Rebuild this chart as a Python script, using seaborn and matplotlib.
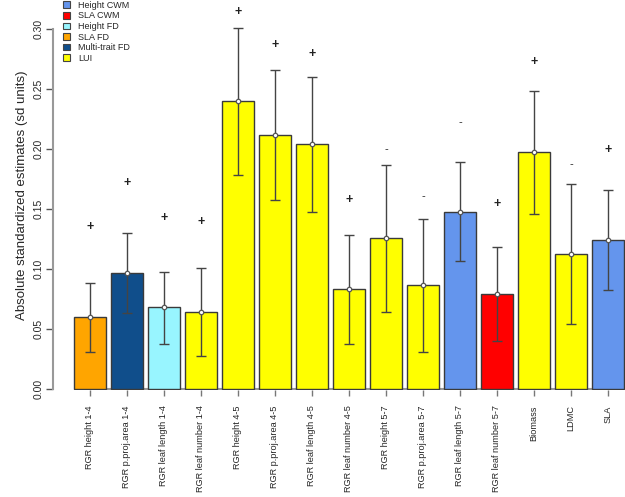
import seaborn as sns
import pandas as pd
import matplotlib.pyplot as plt
from matplotlib.patches import Patch

labels = ["RGR height 1-4", "RGR p.proj.area 1-4", "RGR leaf length 1-4", "RGR leaf number 1-4",
          "RGR height 4-5", "RGR p.proj.area 4-5", "RGR leaf length 4-5", "RGR leaf number 4-5",
          "RGR height 5-7", "RGR p.proj.area 5-7", "RGR leaf length 5-7", "RGR leaf number 5-7",
          "Biomass", "LDMC", "SLA"]
groups = ["SLA FD", "Multi-trait FD", "Height FD", "LUI",
          "LUI", "LUI", "LUI", "LUI",
          "LUI", "LUI", "Height CWM", "SLA CWM",
          "LUI", "LUI", "Height CWM"]
estimate = [0.060, 0.0967, 0.0683, 0.0644, 0.240, 0.212, 0.2044, 0.0836,
            0.1258, 0.0867, 0.1478, 0.0797, 0.1975, 0.1128, 0.1247]
upper = [0.089, 0.130, 0.098, 0.101, 0.3008, 0.266, 0.2605, 0.129,
         0.187, 0.142, 0.1897, 0.1186, 0.249, 0.171, 0.166]
lower = [0.031, 0.0633, 0.038, 0.0278, 0.179, 0.158, 0.148, 0.0378,
         0.0644, 0.031, 0.1067, 0.0405, 0.146, 0.0547, 0.083]
sign_pos = [0.135, 0.172, 0.143, 0.139, 0.3148, 0.287, 0.279, 0.158,
            0.200, 0.161, 0.2228, 0.154, 0.2725, 0.188, 0.199]
signs = ["+", "+", "+", "+", "+", "+", "+", "+", "-", "-", "-", "+", "+", "-", "+"]

legend_names = ["Height CWM", "SLA CWM", "Height FD", "SLA FD", "Multi-trait FD", "LUI"]
legend_colors = ["#6495ED", "#FF0000", "#98F5FF", "#FFA500", "#104E8B", "#FFFF00"]
palette = dict(zip(legend_names, legend_colors))

sns.set_style("white")
plt.rcParams['font.family'] = ['Liberation Sans', 'DejaVu Sans']

df = pd.DataFrame({"label": labels, "group": groups, "estimate": estimate})

fig = plt.figure(figsize=(6.25, 4.97), dpi=100)
ax = fig.add_axes([53 / 625, 107 / 497, 1 - 53 / 625, 390 / 497])

sns.barplot(data=df, x="label", y="estimate", hue="group", palette=palette,
            dodge=False, width=0.84, edgecolor="#3a3a3a", linewidth=1,
            saturation=1, legend=False, ax=ax, order=labels)

pos = list(range(len(labels)))
yerr = [[e - l for e, l in zip(estimate, lower)], [u - e for e, u in zip(estimate, upper)]]
ax.errorbar(pos, estimate, yerr=yerr, fmt="none", ecolor="#444444", elinewidth=1,
            capsize=3.6, capthick=1)
ax.plot(pos, estimate, "o", ms=3.2, mfc="white", mec="#555555", mew=0.9, ls="none")

for p, s, v in zip(pos, signs, sign_pos):
    if s == "+":
        ax.text(p, v, s, ha="center", va="center", fontsize=9, color="#222222",
                fontweight="bold")
    else:
        ax.text(p, v, s, ha="center", va="center", fontsize=8, color="#222222")

ax.hlines(0, -0.42, 14.42, color="#999999", lw=1.5, zorder=0.5)
ax.set_xlim(-1.0, 14.46)
ax.set_ylim((389.3 - 390) / 1200, 389.3 / 1200)

ax.set_yticks([0.00, 0.05, 0.10, 0.15, 0.20, 0.25, 0.30])
ax.set_yticklabels(["0.00", "0.05", "0.10", "0.15", "0.20", "0.25", "0.30"],
                   rotation=90, va="center", fontsize=7.5)
ax.set_xticks(pos)
ax.set_xticklabels(labels, rotation=90, fontsize=6.6, va="top", ha="center")
ax.tick_params(axis="y", length=5, width=1, color="#555555", pad=2, left=True)
ax.tick_params(axis="x", length=4, width=1, color="#777777", pad=7, bottom=True)

for sp in ["top", "right", "bottom"]:
    ax.spines[sp].set_visible(False)
ax.spines["left"].set_bounds(0, 0.30)
ax.spines["left"].set_color("#999999")
ax.spines["left"].set_linewidth(1.5)

ax.set_xlabel("")
ax.set_ylabel("Absolute standardized estimates (sd units)", fontsize=9.5, labelpad=4)

handles = [Patch(facecolor=c, edgecolor="#444444", linewidth=0.8) for c in legend_colors]
fig.legend(handles, legend_names, loc="upper left", bbox_to_anchor=(58 / 625, 1.009),
           frameon=False, fontsize=6.5, handlelength=0.75, handleheight=0.75,
           labelspacing=0.17, handletextpad=0.9, borderpad=0.1)

plt.savefig("out.png", dpi=100)
